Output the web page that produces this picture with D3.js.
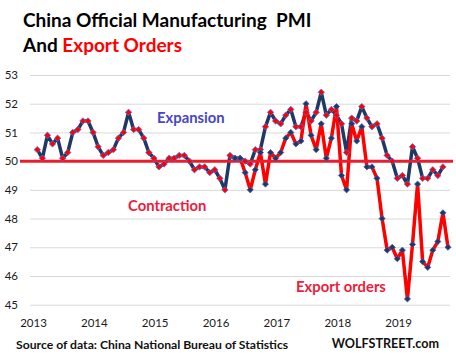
<!DOCTYPE html>
<html><head><meta charset="utf-8">
<script src="https://cdn.jsdelivr.net/npm/d3@7/dist/d3.min.js"></script>
<style>
html,body{margin:0;padding:0;background:#fff;}
svg{display:block;font-family:Lato,"Open Sans",sans-serif;}
</style></head>
<body><svg id="c" width="456" height="359"></svg>
<script>
// ---- data ----
const yearLabels = ["2013","2014","2015","2016","2017","2018","2019"];
const yTicks = [45,46,47,48,49,50,51,52,53];
// China official manufacturing PMI, Jan 2013 - Sep 2019
const pmi = [
 50.4,50.1,50.9,50.6,50.8,50.1,50.3,51.0,51.1,51.4,51.4,51.0,
 50.5,50.2,50.3,50.4,50.8,51.0,51.7,51.1,51.1,50.8,50.3,50.1,
 49.8,49.9,50.1,50.1,50.2,50.2,50.0,49.7,49.8,49.8,49.6,49.7,
 49.4,49.0,50.2,50.1,50.1,50.0,49.9,50.4,50.4,51.2,51.7,51.4,
 51.3,51.6,51.8,51.2,51.2,51.7,51.4,51.7,52.4,51.6,51.8,51.6,
 51.3,50.3,51.5,51.4,51.9,51.5,51.2,51.3,50.8,50.2,50.0,49.4,
 49.5,49.2,50.5,50.1,49.4,49.4,49.7,49.5,49.8
];
// New export orders sub-index, Apr 2016 - Oct 2019
const exportStartMonth = 39; // month index of Apr 2016 (Jan 2013 = 0)
const exportOrders = [
 50.1,50.1,49.6,49.0,49.7,50.3,49.2,50.3,50.1,
 50.3,50.8,51.0,50.6,50.7,52.0,50.9,50.4,51.3,50.1,50.8,51.9,
 49.5,49.0,51.3,50.7,51.2,49.8,49.8,49.4,48.0,46.9,47.0,46.6,
 46.9,45.2,47.1,49.2,46.5,46.3,46.9,47.2,48.2,47.0
];

const svg = d3.select("#c");
const x = d3.scaleLinear().domain([0, 81]).range([37.3, 448]);
const y = d3.scaleLinear().domain([45, 53]).range([304.7, 75]);

// title
const t = svg.append("g").attr("font-weight","bold").attr("font-size","19px");
t.append("text").attr("x",23).attr("y",27).attr("fill","#000")
  .attr("xml:space","preserve").text("China Official Manufacturing  PMI");
const t2 = t.append("text").attr("x",23).attr("y",52).attr("fill","#000");
t2.append("tspan").text("And ");
t2.append("tspan").attr("fill","#ff0000").text("Export Orders");

// y axis with gridlines
const ya = svg.append("g").attr("transform","translate(30,0)")
  .call(d3.axisLeft(y).tickValues(yTicks).tickSize(-420).tickPadding(12).tickFormat(d3.format("d")));
ya.select(".domain").remove();
ya.selectAll(".tick line").attr("stroke","#d9d9d9").attr("stroke-width",1);
ya.selectAll(".tick text").attr("fill","#1a1a1a").attr("font-size","11.5px")
  .attr("font-family","Lato,sans-serif");

// x labels
svg.append("g").selectAll("text").data(yearLabels).join("text")
  .attr("x",(d,i)=>x(i*12 - 0.75)).attr("y",327)
  .attr("text-anchor","middle").attr("font-size","11.5px").attr("fill","#1a1a1a")
  .text(d=>d);

const pmiData = pmi.map((v,i)=>({i,v}));
const expData = exportOrders.map((v,i)=>({i:i+exportStartMonth,v}));
const line = d3.line().x(d=>x(d.i)).y(d=>y(d.v));

svg.append("path").datum(pmiData).attr("d",line).attr("fill","none")
  .attr("stroke","#1f3864").attr("stroke-width",3.5).attr("stroke-linejoin","round");
svg.append("path").datum(expData).attr("d",line).attr("fill","none")
  .attr("stroke","#ff0000").attr("stroke-width",3.5).attr("stroke-linejoin","round");

// 50 line
svg.append("line").attr("x1",20).attr("x2",453).attr("y1",y(50)).attr("y2",y(50))
  .attr("stroke","#ec1c2c").attr("stroke-width",3);

const diamond = d3.symbol().type(d3.symbolDiamond2);
svg.append("g").selectAll("path").data(pmiData).join("path")
  .attr("transform",d=>`translate(${x(d.i)},${y(d.v)})`)
  .attr("d",diamond.size(26)()).attr("fill","#ff0000").attr("stroke","#5b6fd6").attr("stroke-width",0.8);
svg.append("g").selectAll("path").data(expData).join("path")
  .attr("transform",d=>`translate(${x(d.i)},${y(d.v)})`)
  .attr("d",diamond.size(24)()).attr("fill","#1f3864").attr("stroke","#4a5fa8").attr("stroke-width",0.8);

// annotations
svg.append("text").attr("x",157).attr("y",123).attr("font-weight","bold").attr("font-size","14.8px")
  .attr("fill","#4646c8").text("Expansion");
svg.append("text").attr("x",128).attr("y",211).attr("font-weight","bold").attr("font-size","14.8px")
  .attr("fill","#ed1c3a").text("Contraction");
svg.append("text").attr("x",296).attr("y",292).attr("font-weight","bold").attr("font-size","14.8px")
  .attr("fill","#ed1c3a").text("Export orders");

// footer
svg.append("text").attr("x",16).attr("y",349).attr("font-weight","bold").attr("font-size","12.2px")
  .attr("fill","#111").text("Source of data: China National Bureau of Statistics");
svg.append("text").attr("x",439).attr("y",348).attr("text-anchor","end").attr("font-weight","bold")
  .attr("font-size","12.6px").attr("fill","#111").text("WOLFSTREET.com");
</script></body></html>
